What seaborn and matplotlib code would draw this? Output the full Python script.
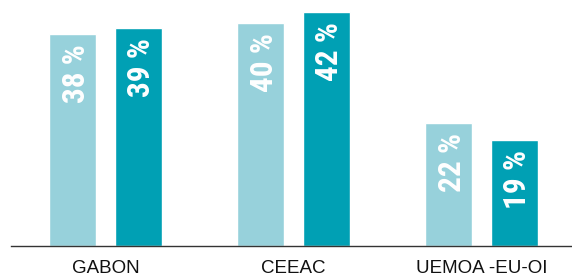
import pandas as pd
import seaborn as sns
import matplotlib.pyplot as plt
from matplotlib import font_manager

regions = ["GABON", "CEEAC", "UEMOA -EU-OI"]
series_1 = [38, 40, 22]
series_2 = [39, 42, 19]
series_names = ["Série 1", "Série 2"]

colors = ["#97D1DB", "#00A0B4"]


def pick_label_font():
    names = {f.name for f in font_manager.fontManager.ttflist}
    for n in ["Roboto Condensed", "Liberation Sans Narrow", "Roboto"]:
        if n in names:
            return n
    return "DejaVu Sans"


def gen_chart():
    df = pd.DataFrame({
        "region": regions * 2,
        "serie": [series_names[0]] * 3 + [series_names[1]] * 3,
        "pct": series_1 + series_2,
    })

    sns.set_style("white")
    plt.rcParams['font.family'] = ['Liberation Sans', 'DejaVu Sans']
    lab_font = pick_label_font()

    fig = plt.figure(figsize=(5.72, 2.77), dpi=100)
    ax = fig.add_axes([0.0192, 0.1119, 0.9808, 0.8881])

    sns.barplot(data=df, x="region", y="pct", hue="serie", palette=colors,
                width=0.70, gap=0.29, saturation=1, legend=False, ax=ax)

    for cont in ax.containers:
        for bar in cont:
            v = bar.get_height()
            ax.annotate(f"{v:.0f} %", (bar.get_x() + bar.get_width() / 2, v),
                        xytext=(3, -10), textcoords="offset pixels",
                        rotation=90, ha="center", va="top", color="white",
                        fontsize=22.5, fontweight="bold", family=lab_font)

    ax.set_xlim(-0.503, 2.481)
    ax.set_ylim(0, 44.1)
    ax.set_xlabel("")
    ax.set_ylabel("")
    ax.set_yticks([])
    for s in ["top", "left", "right"]:
        ax.spines[s].set_visible(False)
    ax.spines["bottom"].set_color("#333333")
    ax.spines["bottom"].set_linewidth(1)
    ax.tick_params(axis="x", length=0, pad=10, labelsize=13.5, labelcolor="#111111")

    fig.savefig("out.png", dpi=100)


if __name__ == '__main__':
    gen_chart()
